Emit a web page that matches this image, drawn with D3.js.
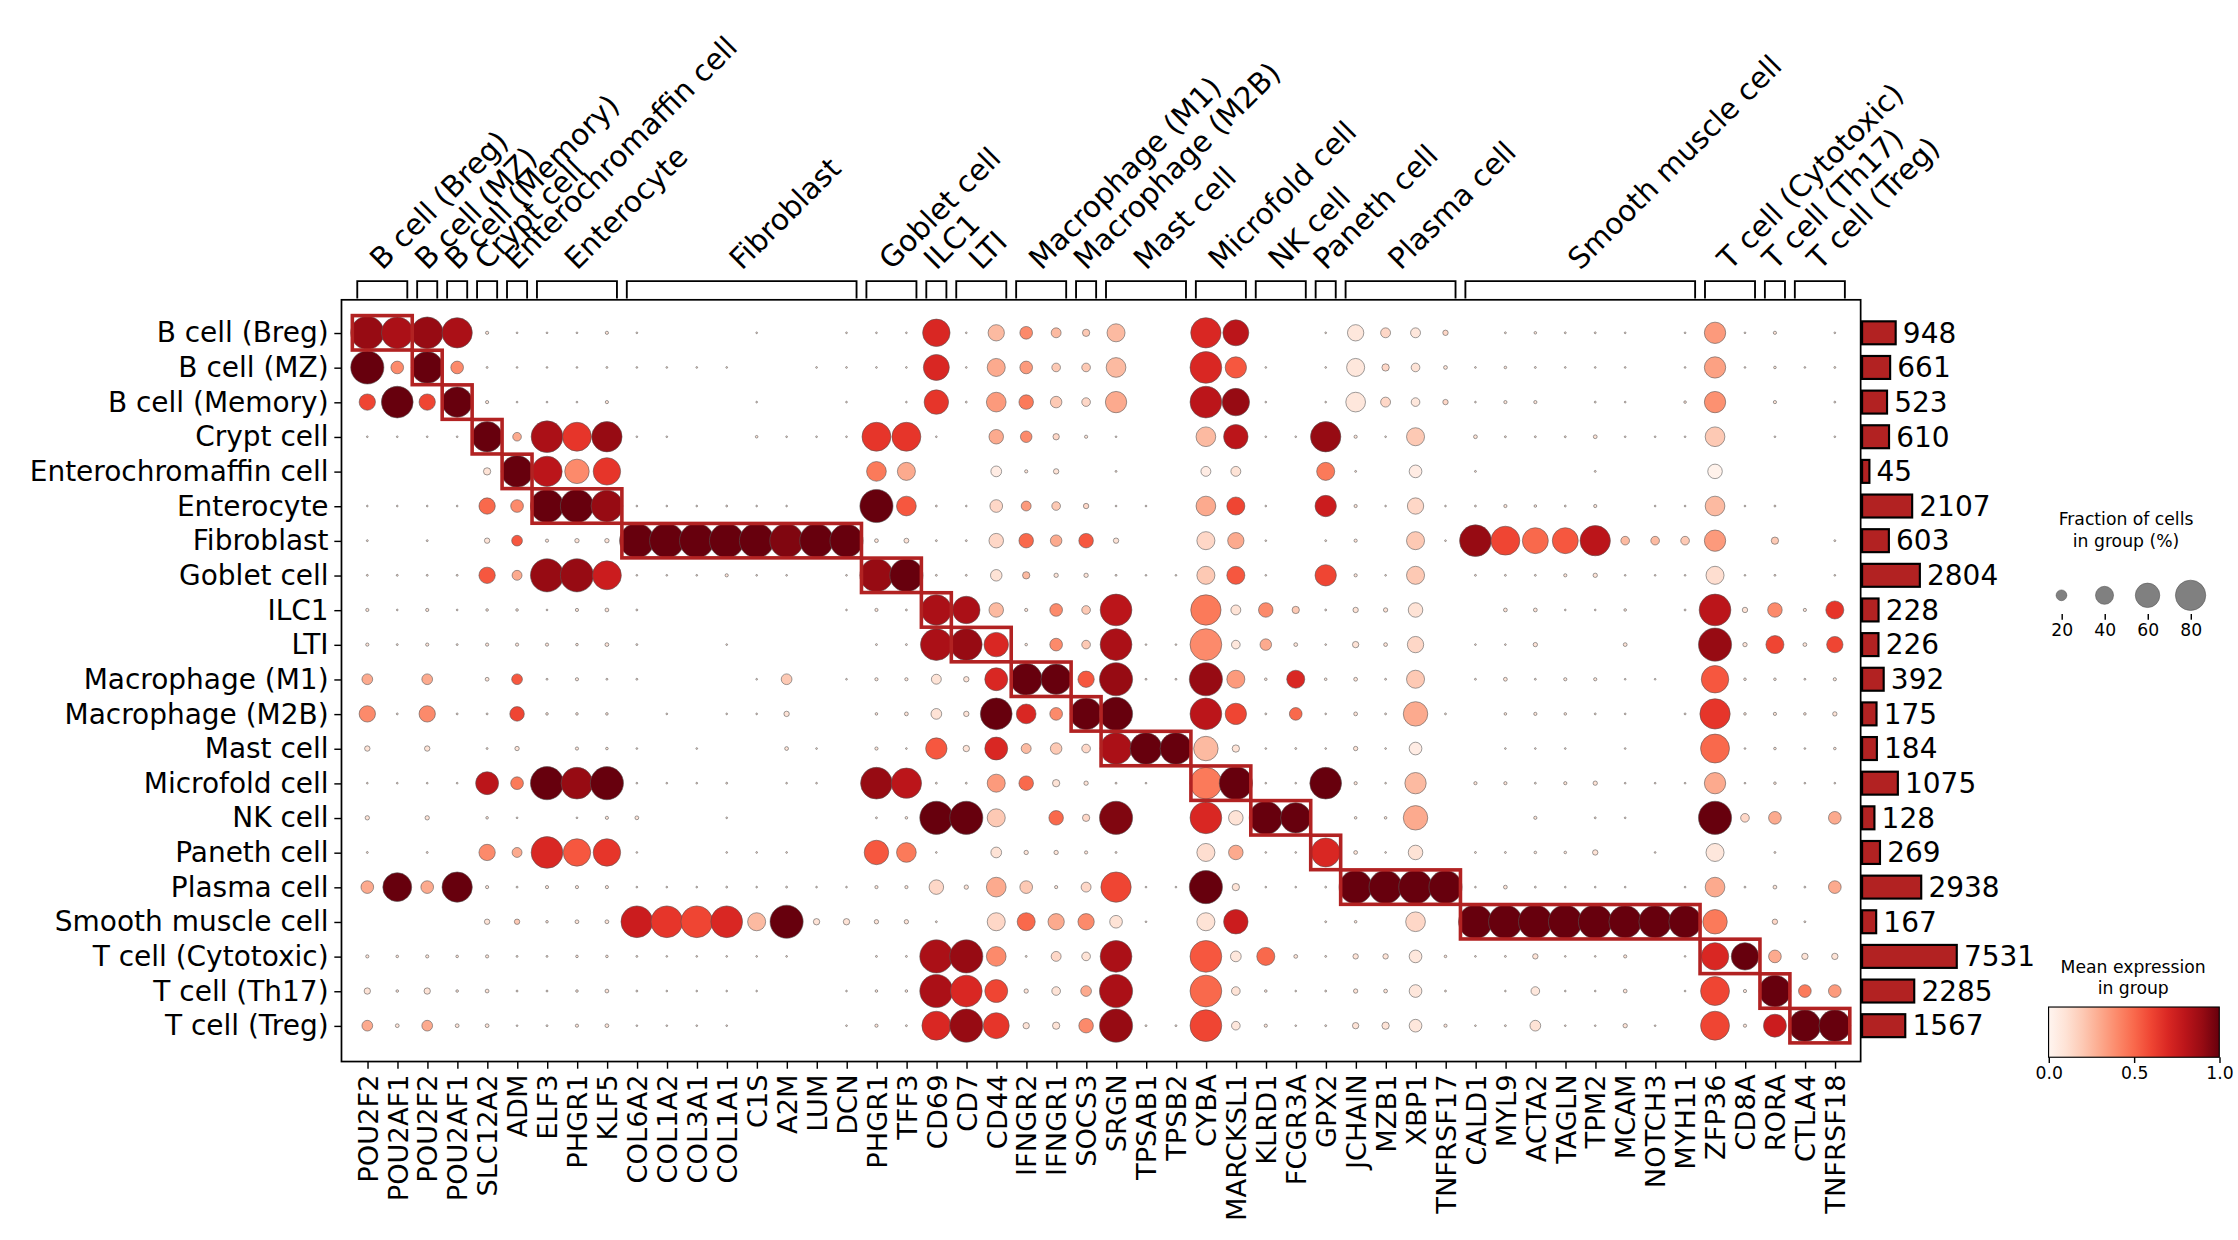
<!DOCTYPE html>
<html>
<head>
<meta charset="utf-8">
<script src="https://cdn.jsdelivr.net/npm/d3@7"></script>
<style>
  body { margin: 0; background: white; }
  text { font-family: "DejaVu Sans", sans-serif; }
</style>
</head>
<body>
<svg id="plot" width="2238" height="1240" viewBox="0 0 1560 864.4"></svg>
<script>
// cell types (rows)
const cellTypes = ["B cell (Breg)", "B cell (MZ)", "B cell (Memory)", "Crypt cell", "Enterochromaffin cell",
    "Enterocyte", "Fibroblast", "Goblet cell", "ILC1", "LTI", "Macrophage (M1)", "Macrophage (M2B)",
    "Mast cell", "Microfold cell", "NK cell", "Paneth cell", "Plasma cell", "Smooth muscle cell",
    "T cell (Cytotoxic)", "T cell (Th17)", "T cell (Treg)"];
// marker genes (columns)
const genes = ["POU2F2","POU2AF1","POU2F2","POU2AF1","SLC12A2","ADM","ELF3","PHGR1","KLF5",
    "COL6A2","COL1A2","COL3A1","COL1A1","C1S","A2M","LUM","DCN","PHGR1","TFF3","CD69","CD7","CD44",
    "IFNGR2","IFNGR1","SOCS3","SRGN","TPSAB1","TPSB2","CYBA","MARCKSL1","KLRD1","FCGR3A","GPX2",
    "JCHAIN","MZB1","XBP1","TNFRSF17","CALD1","MYL9","ACTA2","TAGLN","TPM2","MCAM","NOTCH3","MYH11",
    "ZFP36","CD8A","RORA","CTLA4","TNFRSF18"];
// gene groups: [label, first column, last column]
const groups = [["B cell (Breg)",0,1],["B cell (MZ)",2,2],["B cell (Memory)",3,3],["Crypt cell",4,4],
    ["Enterochromaffin cell",5,5],["Enterocyte",6,8],["Fibroblast",9,16],["Goblet cell",17,18],
    ["ILC1",19,19],["LTI",20,21],["Macrophage (M1)",22,23],["Macrophage (M2B)",24,24],["Mast cell",25,27],
    ["Microfold cell",28,29],["NK cell",30,31],["Paneth cell",32,32],["Plasma cell",33,36],
    ["Smooth muscle cell",37,44],["T cell (Cytotoxic)",45,46],["T cell (Th17)",47,47],["T cell (Treg)",48,49]];
// cells per group
const cellCounts = [948, 661, 523, 610, 45, 2107, 603, 2804, 228, 226, 392, 175, 184, 1075, 128, 269, 2938, 167, 7531, 2285, 1567];
// "fraction%/mean expression" per gene, one string per cell type (no "/" -> mean 0.1)
const dotRows = [
 "90/.9 85/.85 85/.9 80/.85 4 1 1 1 4 1 0 0 0 1 0 0 1 1 1 70/.7 1 35/.25 25/.4 18/.25 12/.2 40/.25 0 0 80/.7 65/.8 0 0 1 35/.08 18/.15 18/.08 8/.15 0 2 3 2 2 1 0 1 50/.35 1 4 0 1",
 "90/1 25/.4 85/1 25/.4 2 1 1 1 2 1 1 1 1 0 0 1 1 1 1 65/.7 1 40/.3 25/.35 15/.2 15/.2 45/.25 0 0 85/.7 50/.55 1 0 1 40/.08 12/.15 15/.1 5 1 3 2 1 1 1 0 1 50/.33 1 3 1 2",
 "35/.6 85/1 35/.6 80/1 4 1 1 1 4 0 0 0 0 1 0 0 1 0 1 60/.65 2 45/.35 30/.45 22/.2 15/.15 50/.3 0 0 85/.8 70/.9 1 0 1 45/.08 18/.15 15/.08 8/.15 1 4 4 0 2 1 0 3 50/.38 0 4 0 2",
 "1 1 1 1 80/1 15/.3 85/.85 75/.65 80/.9 1 1 0 0 3 1 1 1 75/.65 75/.65 1 0 30/.3 22/.4 10/.15 4 1 0 0 45/.25 60/.8 1 1 80/.9 4 1 40/.2 0 5 2 2 2 5 1 1 1 45/.2 0 1 0 1",
 "0 0 0 0 12/.1 85/1 80/.8 60/.4 70/.65 0 0 0 0 0 0 0 0 45/.45 40/.3 0 0 20/.05 4 8 0 2 0 0 18/.05 18/.1 0 0 40/.45 2 0 25/.05 0 2 0 0 0 2 0 0 0 30/.02 0 0 0 0",
 "1 1 1 1 35/.5 25/.4 90/1 90/1 85/.9 1 1 1 2 1 1 0 0 90/1 45/.55 2 1 25/.15 18/.35 15/.2 8/.15 1 1 0 45/.3 40/.6 1 0 50/.75 4 1 35/.15 1 2 4 3 2 4 0 1 1 45/.25 1 2 0 0",
 "2 0 2 0 8 20/.55 4 6 6 95/1 95/1 95/1 95/1 95/1 92/.95 92/1 90/1 5 7 2 2 30/.15 30/.5 22/.3 30/.55 8 0 0 40/.15 35/.3 1 0 2 4 0 40/.2 1 85/.9 75/.6 65/.5 65/.55 80/.8 15/.25 15/.25 15/.2 50/.35 0 12/.2 0 2",
 "2 2 2 2 35/.55 18/.3 90/.9 90/.9 75/.75 1 1 1 4 1 1 0 1 90/.9 90/1 2 2 22/.1 12/.25 6 6 2 1 1 40/.2 40/.55 1 0 50/.6 4 1 40/.2 0 2 2 2 4 6 1 1 1 40/.12 1 2 0 1",
 "4 1 4 1 3 3 1 4 5 2 0 0 0 0 0 0 1 4 2 80/.85 70/.85 30/.25 4 25/.4 15/.2 85/.8 0 0 80/.45 18/.1 30/.4 12/.2 2 8 6 30/.1 0 0 5 5 1 1 3 0 2 85/.8 8 30/.4 4 40/.65",
 "4 2 4 2 4 4 4 3 5 2 0 0 1 0 0 0 0 2 2 85/.85 85/.9 60/.7 3 25/.4 15/.2 85/.85 1 1 85/.4 15/.08 22/.3 5 1 10 5 35/.15 0 1 1 6 0 0 5 0 0 90/.9 6 40/.6 5 35/.6",
 "20/.3 0 20/.3 0 5 20/.55 2 4 2 2 0 0 0 1 20/.2 0 1 4 4 18/.1 8 55/.7 85/1 80/1 35/.55 90/.9 2 2 90/.9 40/.35 3 40/.7 3 5 2 40/.2 0 2 5 2 4 4 1 1 0 70/.55 3 3 2 4",
 "35/.4 2 35/.4 2 2 30/.6 3 3 3 0 1 0 1 1 8 0 0 3 5 20/.1 8 85/1 45/.7 25/.4 85/1 90/1 0 0 85/.8 50/.6 2 25/.5 1 5 2 60/.3 2 0 3 4 3 2 1 0 2 80/.65 3 4 3 6",
 "8 0 8 0 2 6 0 4 3 1 0 1 0 0 5 1 0 4 1 50/.55 10 55/.7 18/.25 22/.2 15/.15 85/.85 85/1 85/1 60/.25 12 1 2 1 6 1 25/.05 0 0 1 1 1 0 1 0 0 75/.5 1 3 1 3",
 "1 1 1 1 55/.8 25/.45 90/1 85/.9 90/1 1 1 1 2 0 1 1 0 85/.9 80/.8 2 2 40/.35 30/.5 12 6 2 1 0 85/.45 90/1 1 1 85/1 4 1 50/.25 0 4 4 2 4 6 1 1 1 50/.3 1 3 1 1",
 "6 0 6 0 3 1 0 1 4 5 0 0 1 0 0 0 0 2 3 90/1 90/1 40/.2 0 30/.5 12/.15 90/.95 0 0 85/.7 30/.1 90/1 80/1 0 3 3 60/.3 0 0 0 4 0 2 1 0 0 90/1 15/.15 25/.3 0 25/.3",
 "2 0 2 0 35/.4 18/.3 85/.7 70/.55 70/.65 1 0 0 1 1 1 0 0 60/.55 45/.45 1 0 20/.1 6 6 4 2 0 0 40/.12 30/.3 1 1 75/.7 5 1 30/.1 0 2 2 3 3 8 0 1 0 40/.08 0 2 0 0",
 "25/.3 75/1 25/.3 80/1 4 2 4 4 4 1 1 1 2 1 2 1 1 4 4 30/.15 6 45/.3 25/.2 4 18/.15 80/.6 1 1 90/1 12 1 1 2 90/1 90/1 92/1 90/1 1 5 2 1 1 1 0 1 45/.3 2 5 2 25/.3",
 "0 0 0 0 8 8/.2 3 5 5 85/.75 85/.65 85/.6 85/.7 40/.25 90/1 10 10 6 6 2 0 40/.15 40/.5 35/.3 35/.4 25/.1 1 0 40/.1 60/.75 0 0 2 3 0 45/.15 0 92/1 92/1 92/1 92/1 92/1 88/1 88/1 88/1 60/.45 0 8/.15 2 0",
 "4 3 4 3 4 2 2 3 3 2 1 1 1 1 1 0 0 2 2 90/.85 90/.9 45/.4 2 18/.15 15/.1 85/.85 0 0 85/.55 20/.08 40/.5 5 2 8 8 25/.08 3 1 2 8 1 1 4 0 1 70/.7 70/1 25/.3 10 10",
 "10 3 10 3 5 2 2 3 5 2 1 1 1 1 0 0 1 3 3 90/.85 85/.7 55/.6 6 15/.1 20/.3 90/.85 0 0 85/.5 15/.1 3 1 2 6 5 25/.08 2 0 1 15/.08 1 1 5 0 1 75/.6 4 85/1 25/.45 25/.35",
 "20/.3 5 20/.3 5 5 1 2 4 5 1 1 1 1 0 0 0 1 4 2 75/.7 90/.9 65/.65 10 12 30/.4 90/.9 2 2 85/.6 15/.08 4 1 2 10 12 25/.08 4 1 2 20/.1 1 1 6 1 0 75/.6 4 55/.75 85/1 85/1"
];

const cells = [];
dotRows.forEach((s, r) => {
    s.trim().split(/\s+/).forEach((tok, c) => {
        const p = tok.split("/");
        const f = +p[0];
        if (f > 0) cells.push({ r: r, c: c, frac: f, mean: p.length > 1 ? +p[1] : 0.1 });
    });
});

const svg = d3.select("svg#plot");
const plotLeft = 238, plotRight = 1297, plotTop = 209, plotBottom = 740;

const x = d3.scalePoint().domain(d3.range(genes.length)).range([256, 1279]);
const y = d3.scalePoint().domain(d3.range(cellTypes.length)).range([232, 715]);
const size = d3.scalePow().exponent(0.75).domain([0, 100]).range([0, 25]);
const color = d3.scaleSequential(d3.interpolateReds).domain([0, 1]);
const step = x.step();

// dots
svg.append("g").selectAll("circle").data(cells).join("circle")
    .attr("cx", d => x(d.c))
    .attr("cy", d => y(d.r))
    .attr("r", d => Math.max(size(d.frac) / 2, 0.6))
    .attr("fill", d => color(d.mean))
    .attr("stroke", "#555")
    .attr("stroke-width", 0.4);

// highlight boxes
svg.append("g").selectAll("rect").data(groups).join("rect")
    .attr("x", (d) => x(d[1]) - step / 2)
    .attr("y", (d, i) => y(i) - 12)
    .attr("width", d => (d[2] - d[1] + 1) * step)
    .attr("height", 24)
    .attr("fill", "none")
    .attr("stroke", "#b22222")
    .attr("stroke-width", 2.5);

// frame
svg.append("rect").attr("x", plotLeft).attr("y", plotTop).attr("width", plotRight - plotLeft).attr("height", plotBottom - plotTop)
    .attr("fill", "none").attr("stroke", "black").attr("stroke-width", 1.2);

// y axis
const yAxis = svg.append("g").attr("transform", `translate(${plotLeft},0)`)
    .call(d3.axisLeft(y).tickSize(5).tickFormat(i => cellTypes[i]));
yAxis.select(".domain").remove();
yAxis.selectAll("text").attr("font-size", 19.5).attr("fill", "black").attr("dx", "-1");

// x axis
const xAxis = svg.append("g").attr("transform", `translate(0,${plotBottom})`)
    .call(d3.axisBottom(x).tickSize(5).tickFormat(i => genes[i]));
xAxis.select(".domain").remove();
xAxis.selectAll("text").attr("font-size", 19).attr("fill", "black")
    .attr("transform", "rotate(-90)")
    .attr("text-anchor", "end")
    .attr("x", -9).attr("y", 0).attr("dy", "0.35em");

// group brackets and labels
const gb = svg.append("g");
groups.forEach(g => {
    const x0 = x(g[1]) - 7, x1 = x(g[2]) + 7;
    gb.append("path")
        .attr("d", `M${x0},208 L${x0},196 L${x1},196 L${x1},208`)
        .attr("fill", "none").attr("stroke", "black").attr("stroke-width", 1.3);
    const mid = (x(g[1]) + x(g[2])) / 2;
    gb.append("text").text(g[0])
        .attr("transform", `translate(${mid},189) rotate(-45)`)
        .attr("font-size", 20.5).attr("text-anchor", "start");
});

// cell count bars
const bx = d3.scaleSqrt().domain([0, 7531]).range([0, 66]);
const bars = svg.append("g");
bars.selectAll("rect").data(cellCounts).join("rect")
    .attr("x", plotRight + 1)
    .attr("y", (d, i) => y(i) - 8)
    .attr("width", d => bx(d))
    .attr("height", 16)
    .attr("fill", "#b22222")
    .attr("stroke", "black")
    .attr("stroke-width", 1.5);
bars.selectAll("text").data(cellCounts).join("text")
    .text(d => d)
    .attr("x", d => plotRight + 1 + bx(d) + 5)
    .attr("y", (d, i) => y(i))
    .attr("dy", "0.35em")
    .attr("font-size", 19.5);

// size legend
const sizeVals = [20, 40, 60, 80];
const lx = d3.scalePoint().domain(sizeVals).range([1437, 1527]);
const sl = svg.append("g");
sl.append("text").attr("x", 1482).attr("y", 366).attr("text-anchor", "middle").attr("font-size", 12).text("Fraction of cells");
sl.append("text").attr("x", 1482).attr("y", 381).attr("text-anchor", "middle").attr("font-size", 12).text("in group (%)");
sl.selectAll("circle").data(sizeVals).join("circle")
    .attr("cx", d => lx(d)).attr("cy", 415)
    .attr("r", d => size(d) / 2)
    .attr("fill", "#808080").attr("stroke", "#555").attr("stroke-width", 0.4);
const sAxis = sl.append("g").attr("transform", "translate(0,428)").call(d3.axisBottom(lx).tickSize(4));
sAxis.select(".domain").remove();
sAxis.selectAll("text").attr("font-size", 12).attr("fill", "black");

// colour legend
const cl = svg.append("g");
cl.append("text").attr("x", 1487).attr("y", 678).attr("text-anchor", "middle").attr("font-size", 12).text("Mean expression");
cl.append("text").attr("x", 1487).attr("y", 693).attr("text-anchor", "middle").attr("font-size", 12).text("in group");
const defs = svg.append("defs");
const grad = defs.append("linearGradient").attr("id", "reds");
d3.range(0, 1.01, 0.1).forEach(t => grad.append("stop").attr("offset", t).attr("stop-color", color(t)));
cl.append("rect").attr("x", 1428).attr("y", 702).attr("width", 119).attr("height", 35)
    .attr("fill", "url(#reds)").attr("stroke", "black").attr("stroke-width", 0.8);
const cbx = d3.scaleLinear().domain([0, 1]).range([1428, 1547]);
const cAxis = cl.append("g").attr("transform", "translate(0,737)")
    .call(d3.axisBottom(cbx).tickValues([0, 0.5, 1]).tickFormat(d3.format(".1f")).tickSize(4));
cAxis.select(".domain").remove();
cAxis.selectAll("text").attr("font-size", 12).attr("fill", "black");
</script>
</body>
</html>
